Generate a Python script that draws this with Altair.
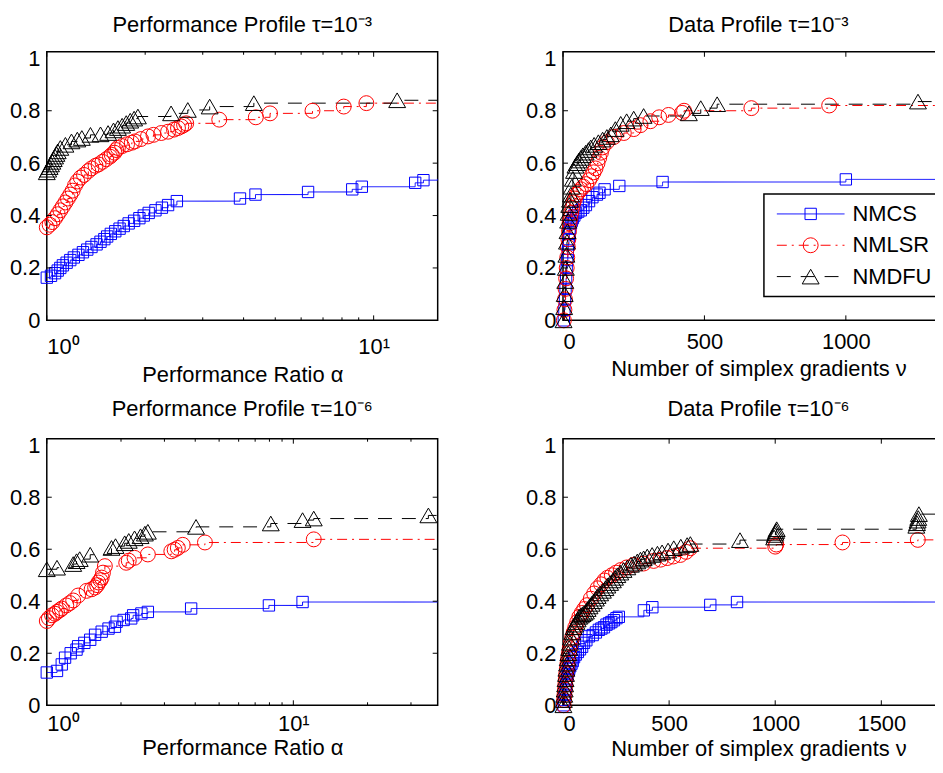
import altair as alt
import pandas as pd

FONT = "Liberation Sans"
FS = 22
NAMES = ["NMCS", "NMLSR", "NMDFU"]
COLORS = ["#0000ff", "#ff0000", "#000000"]
SHAPES = ["square", "circle", "triangle-up"]
SIZES = [130, 225, 289]
DASHES = [[1, 0], [10, 5, 2, 5], [14, 10]]

# ---------------- Performance profile tau=1e-3 ----------------
pp3_cs_x = [1.00, 1.03, 1.06, 1.08, 1.10, 1.12, 1.15, 1.18, 1.21, 1.25, 1.29, 1.33, 1.37, 1.42, 1.46,
            1.50, 1.53, 1.57, 1.62, 1.67, 1.72, 1.78, 1.85, 1.92, 1.98, 2.05, 2.15, 2.25, 2.35, 2.50,
            3.9, 4.35, 6.3, 8.6, 9.2, 13.4, 14.2]
pp3_cs_y = [0.163, 0.17, 0.18, 0.19, 0.20, 0.21, 0.22, 0.23, 0.24, 0.25, 0.26, 0.27, 0.28, 0.29, 0.30,
            0.31, 0.32, 0.33, 0.34, 0.35, 0.36, 0.37, 0.38, 0.39, 0.40, 0.41, 0.42, 0.43, 0.44, 0.455,
            0.465, 0.48, 0.49, 0.50, 0.51, 0.525, 0.535]
pp3_cs_end = 0.54
pp3_lsr_x = [1.00, 1.02, 1.04, 1.06, 1.08, 1.10, 1.12, 1.14, 1.16, 1.18, 1.20, 1.22, 1.24, 1.27, 1.30,
             1.34, 1.37, 1.41, 1.44, 1.48, 1.52, 1.56, 1.58, 1.61, 1.63, 1.65, 1.70, 1.76, 1.82, 1.86,
             1.94, 2.04, 2.12, 2.24, 2.35, 2.45, 2.52, 2.58, 2.63, 2.67, 3.37, 4.36, 4.82, 6.5, 8.1, 9.5]
pp3_lsr_y = [0.355, 0.365, 0.375, 0.39, 0.405, 0.42, 0.435, 0.45, 0.465, 0.48, 0.495, 0.515, 0.53, 0.545, 0.555,
             0.57, 0.58, 0.59, 0.595, 0.605, 0.615, 0.625, 0.632, 0.64, 0.65, 0.658, 0.665, 0.672, 0.678, 0.683,
             0.692, 0.702, 0.708, 0.715, 0.72, 0.728, 0.734, 0.74, 0.746, 0.752, 0.766, 0.775, 0.79, 0.80, 0.816, 0.829]
pp3_lsr_end = 0.83
pp3_dfu_x = [1.00, 1.01, 1.02, 1.03, 1.04, 1.05, 1.06, 1.07, 1.08, 1.10, 1.14, 1.19, 1.24, 1.28, 1.36,
             1.46, 1.54, 1.60, 1.65, 1.70, 1.75, 1.80, 1.85, 1.90, 2.40, 2.70, 3.15, 4.30, 11.8]
pp3_dfu_y = [0.565, 0.575, 0.585, 0.595, 0.605, 0.615, 0.625, 0.635, 0.645, 0.658, 0.67, 0.683, 0.69, 0.696, 0.708,
             0.71, 0.715, 0.725, 0.734, 0.743, 0.753, 0.762, 0.77, 0.778, 0.79, 0.803, 0.816, 0.829, 0.84]
pp3_dfu_end = 0.84

# ---------------- Data profile tau=1e-3 ----------------
dp3_cs_x = [3, 5, 7, 9, 11, 13, 15, 17, 19, 21, 23, 25, 28, 31, 35, 40, 46, 54, 63, 72, 81, 92, 104,
            120, 129, 147, 199, 352, 1000]
dp3_cs_y = [0.0, 0.04, 0.08, 0.12, 0.16, 0.2, 0.23, 0.26, 0.29, 0.31, 0.33, 0.35, 0.37, 0.38, 0.39, 0.40, 0.41,
            0.415, 0.42, 0.43, 0.44, 0.455, 0.47, 0.48, 0.487, 0.50, 0.513, 0.528, 0.538]
dp3_cs_end = 0.542
dp3_lsr_x = [3, 5, 7, 9, 11, 13, 15, 17, 19, 21, 23, 26, 29, 33, 37, 42, 48, 55, 63, 72, 82, 92, 100, 108,
             115, 122, 128, 134, 140, 155, 180, 215, 250, 274, 309, 340, 373, 421, 428, 666, 941]
dp3_lsr_y = [0.0, 0.04, 0.08, 0.12, 0.16, 0.2, 0.24, 0.28, 0.31, 0.34, 0.37, 0.39, 0.41, 0.43, 0.45, 0.465,
             0.48, 0.49, 0.50, 0.51, 0.52, 0.535, 0.55, 0.565, 0.58, 0.60, 0.62, 0.64, 0.66, 0.68, 0.70,
             0.715, 0.73, 0.745, 0.76, 0.775, 0.784, 0.792, 0.80, 0.81, 0.82]
dp3_lsr_end = 0.824
dp3_dfu_x = [2, 4, 6, 8, 10, 12, 14, 16, 18, 20, 22, 25, 28, 31, 35, 39, 44, 50, 56, 63, 70, 80, 90, 98,
             110, 125, 140, 155, 169, 185, 204, 225, 250, 285, 445, 487, 545, 1255]
dp3_dfu_y = [0.0, 0.05, 0.1, 0.15, 0.2, 0.25, 0.3, 0.34, 0.38, 0.41, 0.44, 0.46, 0.48, 0.51, 0.54, 0.57,
             0.59, 0.60, 0.61, 0.62, 0.63, 0.64, 0.65, 0.66, 0.67, 0.68, 0.69, 0.70, 0.71, 0.73, 0.75,
             0.76, 0.77, 0.78, 0.79, 0.81, 0.825, 0.835]
dp3_dfu_end = 0.835

# ---------------- Performance profile tau=1e-6 ----------------
pp6_cs_x = [1.0, 1.1, 1.15, 1.186, 1.25, 1.32, 1.34, 1.42, 1.5, 1.57, 1.67, 1.78, 1.89, 1.92, 2.05,
            2.2, 2.24, 2.42, 2.57, 3.85, 7.96, 10.9]
pp6_cs_y = [0.126, 0.132, 0.157, 0.183, 0.2, 0.214, 0.227, 0.24, 0.252, 0.271, 0.283, 0.295, 0.302, 0.321, 0.328,
            0.334, 0.346, 0.353, 0.359, 0.372, 0.384, 0.397]
pp6_cs_end = 0.40
pp6_lsr_x = [1.0, 1.02, 1.05, 1.08, 1.1, 1.13, 1.15, 1.2, 1.24, 1.28, 1.34, 1.45, 1.52, 1.57, 1.6,
             1.62, 1.65, 1.67, 1.69, 1.72, 2.1, 2.15, 2.27, 2.57, 3.2, 3.3, 3.4, 3.56, 4.38, 12.1]
pp6_lsr_y = [0.324, 0.335, 0.346, 0.352, 0.359, 0.366, 0.372, 0.384, 0.393, 0.403, 0.422, 0.44, 0.446, 0.453, 0.462,
             0.472, 0.481, 0.491, 0.51, 0.535, 0.548, 0.556, 0.567, 0.58, 0.592, 0.598, 0.605, 0.617, 0.626, 0.638]
pp6_lsr_end = 0.642
pp6_dfu_x = [1.0, 1.1, 1.28, 1.32, 1.36, 1.5, 1.83, 1.9, 2.07, 2.15, 2.27, 2.4, 2.5, 2.57, 4.03,
             8.1, 10.9, 12.1, 35.3]
pp6_dfu_y = [0.523, 0.529, 0.543, 0.554, 0.562, 0.579, 0.605, 0.612, 0.623, 0.632, 0.642, 0.65, 0.66, 0.667, 0.686,
             0.699, 0.712, 0.718, 0.73]
pp6_dfu_end = 0.73

# ---------------- Data profile tau=1e-6 ----------------
dp6_cs_x = [3, 6, 9, 12, 15, 18, 21, 25, 29, 34, 40, 46, 52, 60, 70, 80, 90, 99, 110, 122, 140, 155, 169,
            181, 193, 205, 217, 228, 240, 252, 263, 381, 421, 694, 820]
dp6_cs_y = [0.0, 0.02, 0.04, 0.06, 0.08, 0.10, 0.12, 0.13, 0.14, 0.15, 0.16, 0.17, 0.185, 0.195, 0.205, 0.215,
            0.225, 0.24, 0.25, 0.265, 0.27, 0.28, 0.29, 0.295, 0.30, 0.31, 0.315, 0.32, 0.327, 0.335, 0.34,
            0.365, 0.377, 0.386, 0.397]
dp6_cs_end = 0.40
dp6_lsr_x = [3, 5, 7, 9, 11, 13, 15, 18, 21, 24, 28, 32, 37, 43, 50, 58, 67, 77, 88, 100, 113, 131, 147,
             163, 180, 195, 209, 230, 250, 272, 300, 333, 380, 427, 460, 491, 520, 553, 580, 600, 1000,
             1005, 1317, 1672]
dp6_lsr_y = [0.0, 0.02, 0.04, 0.06, 0.08, 0.10, 0.12, 0.14, 0.16, 0.18, 0.20, 0.22, 0.24, 0.26, 0.28, 0.30,
             0.32, 0.34, 0.355, 0.37, 0.385, 0.41, 0.43, 0.45, 0.465, 0.48, 0.49, 0.50, 0.51, 0.52, 0.53,
             0.54, 0.545, 0.555, 0.56, 0.566, 0.572, 0.578, 0.59, 0.604, 0.61, 0.618, 0.626, 0.636]
dp6_lsr_end = 0.64
dp6_dfu_x = [2, 4, 6, 8, 10, 12, 14, 16, 19, 22, 25, 29, 33, 38, 44, 50, 57, 63, 69, 76, 84, 92, 100, 108,
             116, 125, 135, 145, 155, 163, 175, 188, 200, 209, 222, 235, 245, 256, 270, 285, 303, 320,
             335, 350, 365, 380, 397, 420, 445, 467, 495, 522, 555, 585, 600, 834, 995, 998, 1001, 1004,
             1007, 1665, 1668, 1671, 1674, 1677]
dp6_dfu_y = [0.0, 0.02, 0.04, 0.06, 0.08, 0.10, 0.12, 0.14, 0.16, 0.18, 0.20, 0.22, 0.24, 0.26, 0.28, 0.30,
             0.31, 0.32, 0.33, 0.34, 0.345, 0.35, 0.355, 0.36, 0.37, 0.38, 0.39, 0.40, 0.41, 0.42, 0.43,
             0.44, 0.45, 0.46, 0.47, 0.48, 0.49, 0.50, 0.51, 0.52, 0.53, 0.54, 0.545, 0.553, 0.56, 0.565,
             0.572, 0.578, 0.583, 0.588, 0.595, 0.604, 0.61, 0.616, 0.62, 0.635, 0.645, 0.655, 0.663, 0.67,
             0.677, 0.69, 0.70, 0.71, 0.72, 0.735]
dp6_dfu_end = 0.735

Y_TICKS = [0, 0.2, 0.4, 0.6, 0.8, 1.0]
Y_MAX = 1.025
W, H_TOP, H_BOT = 393, 270, 268


def series_frames(xs_list, ys_list, ends, xmax):
    lines, pts = [], []
    for name, xs, ys, end in zip(NAMES, xs_list, ys_list, ends):
        assert len(xs) == len(ys), name
        p = pd.DataFrame({"x": xs, "y": ys, "alg": name})
        l = pd.concat([p, pd.DataFrame({"x": [xmax], "y": [end], "alg": [name]})], ignore_index=True)
        pts.append(p)
        lines.append(l)
    return lines, pts


def panel(xs_list, ys_list, ends, xdom, log, title, xtitle, major, minor, H, legend=False,
          title_offset=10, label_pad=8, title_pad=6):
    if log:
        xscale = alt.Scale(type="log", domain=xdom, nice=False)
        xaxis = alt.Axis(values=major, labelExpr="datum.value == 1 ? '10⁰' : '10¹'",
                         title=xtitle, labelPadding=label_pad, titlePadding=title_pad)
    else:
        xscale = alt.Scale(domain=xdom, nice=False, zero=True)
        xaxis = alt.Axis(values=major, format="d", title=xtitle,
                         labelPadding=label_pad, titlePadding=title_pad)
    yscale = alt.Scale(domain=[0, Y_MAX], nice=False)
    yaxis = alt.Axis(values=Y_TICKS, format=".1~f", title=None)

    X = lambda: alt.X("x:Q", scale=xscale, axis=xaxis)
    Y = lambda: alt.Y("y:Q", scale=yscale, axis=yaxis)

    lines, pts = series_frames(xs_list, ys_list, ends, xdom[1])
    layers = []
    for i in range(3):
        layers.append(alt.Chart(lines[i]).mark_line(
            interpolate="step-after", color=COLORS[i], strokeWidth=1, strokeDash=DASHES[i], clip=True
        ).encode(x=X(), y=Y()))
    for i in range(3):
        layers.append(alt.Chart(pts[i]).mark_point(
            shape=SHAPES[i], filled=False, color=COLORS[i], size=SIZES[i], strokeWidth=1, opacity=1
        ).encode(x=X(), y=Y()))

    # inward MATLAB-style ticks
    ydf = pd.DataFrame({"y": Y_TICKS[1:-1]})
    for x0, x1 in [(0, 5), (W - 5, W)]:
        layers.append(alt.Chart(ydf).mark_rule(color="black", strokeWidth=1).encode(
            y=Y(), x=alt.value(x0), x2=alt.value(x1)))
    for vals, ln in [(major, 5), (minor, 3)]:
        if not vals:
            continue
        xdf = pd.DataFrame({"x": vals})
        for y0, y1 in [(H, H - ln), (0, ln)]:
            layers.append(alt.Chart(xdf).mark_rule(color="black", strokeWidth=1).encode(
                x=X(), y=alt.value(y0), y2=alt.value(y1)))

    if legend:
        ldf = pd.DataFrame({"alg": NAMES})
        layers.append(alt.Chart(ldf.iloc[:1]).mark_rect(
            fill="white", stroke="black", strokeWidth=1.5).encode(
            x=alt.value(202), x2=alt.value(380), y=alt.value(143), y2=alt.value(246)))
        for i, name in enumerate(NAMES):
            row = ldf.iloc[i:i + 1]
            yy = 163 + i * 31.5
            layers.append(alt.Chart(row).mark_rule(color=COLORS[i], strokeWidth=1, strokeDash=DASHES[i]).encode(
                x=alt.value(215), x2=alt.value(283), y=alt.value(yy)))
            layers.append(alt.Chart(row).mark_point(
                shape=SHAPES[i], filled=False, color=COLORS[i], size=SIZES[i], strokeWidth=1, opacity=1).encode(
                x=alt.value(249), y=alt.value(yy)))
            layers.append(alt.Chart(row).mark_text(
                align="left", baseline="middle", font=FONT, fontSize=FS, color="black").encode(
                x=alt.value(291), y=alt.value(yy), text="alg:N"))

    return alt.layer(*layers).properties(
        width=W, height=H,
        title=alt.TitleParams(text=title, font=FONT, fontSize=FS, fontWeight="normal",
                              color="black", offset=title_offset))


p1 = panel([pp3_cs_x, pp3_lsr_x, pp3_dfu_x], [pp3_cs_y, pp3_lsr_y, pp3_dfu_y],
           [pp3_cs_end, pp3_lsr_end, pp3_dfu_end], [1, 15.7], True,
           "Performance Profile τ=10⁻³", "Performance Ratio α", [1, 10],
           [2, 3, 4, 5, 6, 7, 8, 9], H_TOP, title_offset=10, label_pad=16, title_pad=7)
p2 = panel([dp3_cs_x, dp3_lsr_x, dp3_dfu_x], [dp3_cs_y, dp3_lsr_y, dp3_dfu_y],
           [dp3_cs_end, dp3_lsr_end, dp3_dfu_end], [0, 1382], False,
           "Data Profile τ=10⁻³", "Number of simplex gradients ν", [0, 500, 1000], [], H_TOP,
           legend=True, title_offset=10, label_pad=11, title_pad=6)
p3 = panel([pp6_cs_x, pp6_lsr_x, pp6_dfu_x], [pp6_cs_y, pp6_lsr_y, pp6_dfu_y],
           [pp6_cs_end, pp6_lsr_end, pp6_dfu_end], [1, 38.5], True,
           "Performance Profile τ=10⁻⁶", "Performance Ratio α", [1, 10],
           [2, 3, 4, 5, 6, 7, 8, 9, 20, 30], H_BOT, title_offset=13, label_pad=8, title_pad=3)
p4 = panel([dp6_cs_x, dp6_lsr_x, dp6_dfu_x], [dp6_cs_y, dp6_lsr_y, dp6_dfu_y],
           [dp6_cs_end, dp6_lsr_end, dp6_dfu_end], [0, 1842], False,
           "Data Profile τ=10⁻⁶", "Number of simplex gradients ν", [0, 500, 1000, 1500], [], H_BOT,
           title_offset=13, label_pad=8, title_pad=4)

chart = alt.vconcat(
    alt.hconcat(p1, p2, spacing=85),
    alt.hconcat(p3, p4, spacing=85),
    spacing=11,
).properties(
    padding={"left": 0, "top": 3, "right": -21, "bottom": 0}
).configure_view(
    stroke="black", strokeWidth=1.5
).configure_axis(
    labelFont=FONT, labelFontSize=FS, labelColor="black", labelPadding=7,
    titleFont=FONT, titleFontSize=FS, titleFontWeight="normal", titleColor="black",
    ticks=False, domain=False, grid=False
)

chart.save("out.html", embed_options={"renderer": "svg", "actions": False})
